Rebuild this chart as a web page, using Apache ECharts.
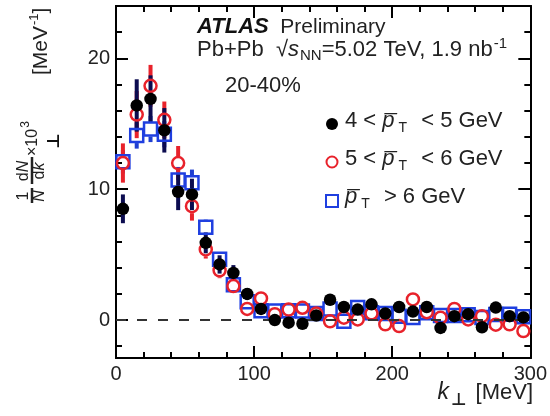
<!DOCTYPE html>
<html><head><meta charset="utf-8">
<script src="https://cdn.jsdelivr.net/npm/echarts@6/dist/echarts.min.js"></script>
<style>html,body{margin:0;padding:0;background:#fff}#c{width:550px;height:416px}</style>
</head><body><div id="c"></div>
<script>
// k_perp bin centres [MeV]
const kPerp = [5,15,25,35,45,55,65,75,85,95,105,115,125,135,145,155,165,175,185,195,205,215,225,235,245,255,265,275,285,295];
// 4 < pT < 5 GeV (black filled circles)
const pt45 = [8.5,16.4,16.9,14.5,9.8,9.6,5.9,4.25,3.6,2.0,0.85,0.0,-0.2,-0.28,0.35,1.55,1.0,0.8,1.2,0.5,1.0,0.65,1.0,-0.6,0.3,0.45,-0.55,0.95,0.3,0.2];
const pt45Err = [1.1,2.0,1.8,1.7,1.4,1.2,0.8,0.7,0.6,0.45,0.4,0.35,0.35,0.35,0.35,0.4,0.4,0.35,0.4,0.35,0.4,0.35,0.4,0.35,0.35,0.35,0.35,0.4,0.35,0.35];
// 5 < pT < 6 GeV (red open circles)
const pt56 = [12.0,15.7,17.9,15.3,12.0,8.7,5.4,3.8,2.6,0.85,1.65,0.45,0.8,0.94,0.5,-0.1,0.18,0.05,0.5,-0.33,-0.46,1.58,0.6,0.18,0.85,0.05,0.3,-0.35,-0.33,-0.84];
const pt56Err = [1.5,1.8,1.6,1.4,1.3,1.1,0.7,0.6,0.5,0.45,0.45,0.4,0.4,0.4,0.4,0.4,0.4,0.4,0.4,0.4,0.4,0.4,0.4,0.4,0.4,0.4,0.4,0.4,0.4,0.4];
// pT > 6 GeV (blue open squares)
const pt6 = [12.1,14.1,14.6,14.2,10.7,10.5,7.1,4.65,2.7,1.4,0.72,0.69,0.72,0.7,0.5,0.85,-0.1,0.95,0.56,0.5,0.3,0.2,0.56,0.35,0.35,0.4,0.2,0.43,0.45,0.25];
const pt6Err = [0.9,1.0,1.0,1.0,1.0,1.0,0.6,0.5,0.4,0.35,0.3,0.3,0.3,0.3,0.3,0.3,0.3,0.3,0.3,0.3,0.3,0.3,0.3,0.3,0.3,0.3,0.3,0.3,0.3,0.3];
const yMajorTicks = [0, 10, 20];
const yMinorTicks = [-2, 2, 4, 6, 8, 12, 14, 16, 18, 22];

const FONT = "'Liberation Sans', Arial, sans-serif";
const BLACK = '#000000', BLACKBAR = '#0c0c50', RED = '#e8222b', BLUE = '#1f3fe0', BLUEBAR = '#1f3fd0';

function errSeries(vals, errs, color, gap, z) {
  return {
    type: 'custom', z: z, silent: true,
    data: kPerp.map((k, i) => [k, vals[i], errs[i]]),
    renderItem: function (params, api) {
      const x = api.value(0), y = api.value(1), e = api.value(2);
      const c = api.coord([x, y]);
      const t = api.coord([x, y + e]);
      const b = api.coord([x, y - e]);
      const ch = [];
      if (c[1] - gap > t[1]) ch.push({type: 'line', shape: {x1: c[0], y1: t[1], x2: c[0], y2: c[1] - gap}, style: {stroke: color, lineWidth: 4}});
      if (b[1] > c[1] + gap) ch.push({type: 'line', shape: {x1: c[0], y1: c[1] + gap, x2: c[0], y2: b[1]}, style: {stroke: color, lineWidth: 4}});
      return {type: 'group', children: ch};
    }
  };
}

const axisCommon = {
  type: 'value', splitLine: {show: false},
  axisLine: {show: true, onZero: false, lineStyle: {color: '#000', width: 2}}
};

const chart = echarts.init(document.getElementById('c'));
chart.setOption({
  animation: false,
  backgroundColor: '#fff',
  grid: {left: 116, right: 15, top: 6, bottom: 58},
  xAxis: [
    Object.assign({}, axisCommon, {
      position: 'bottom', min: 0, max: 300, interval: 100,
      axisTick: {inside: true, length: 12, lineStyle: {color: '#000', width: 2}},
      minorTick: {show: true, splitNumber: 5, length: 6, lineStyle: {color: '#000', width: 2}},
      axisLabel: {fontSize: 20, color: '#222', fontFamily: FONT, margin: 6}
    }),
    Object.assign({}, axisCommon, {
      position: 'top', min: 0, max: 300, interval: 100,
      axisTick: {inside: true, length: 12, lineStyle: {color: '#000', width: 2}},
      minorTick: {show: true, splitNumber: 5, length: 6, lineStyle: {color: '#000', width: 2}},
      axisLabel: {show: false}
    })
  ],
  yAxis: [
    Object.assign({}, axisCommon, {
      position: 'left', min: -2.9, max: 24,
      axisTick: {inside: true, length: 12, customValues: yMajorTicks, lineStyle: {color: '#000', width: 2}},
      axisLabel: {customValues: yMajorTicks, fontSize: 20, color: '#222', fontFamily: FONT, margin: 6}
    }),
    Object.assign({}, axisCommon, {
      position: 'left', min: -2.9, max: 24,
      axisTick: {inside: true, length: 6, customValues: yMinorTicks, lineStyle: {color: '#000', width: 2}},
      axisLabel: {show: false}
    }),
    Object.assign({}, axisCommon, {
      position: 'right', min: -2.9, max: 24,
      axisTick: {inside: true, length: 12, customValues: yMajorTicks, lineStyle: {color: '#000', width: 2}},
      axisLabel: {show: false}
    }),
    Object.assign({}, axisCommon, {
      position: 'right', min: -2.9, max: 24,
      axisTick: {inside: true, length: 6, customValues: yMinorTicks, lineStyle: {color: '#000', width: 2}},
      axisLabel: {show: false}
    })
  ],
  series: [
    errSeries(pt6, pt6Err, BLUEBAR, 7.5, 2),
    errSeries(pt56, pt56Err, RED, 7, 2),
    errSeries(pt45, pt45Err, BLACKBAR, 4, 2),
    {
      name: 'pT > 6 GeV', type: 'scatter', z: 3, symbol: 'rect', symbolSize: 13,
      data: kPerp.map((k, i) => [k, pt6[i]]),
      itemStyle: {color: 'rgba(0,0,0,0)', borderColor: BLUE, borderWidth: 2.5, opacity: 1},
      markLine: {
        silent: true, symbol: 'none', label: {show: false},
        lineStyle: {color: '#333', width: 2, type: [10, 11]},
        data: [{yAxis: 0}]
      }
    },
    {
      name: '5 < pT < 6 GeV', type: 'scatter', z: 4, symbol: 'circle', symbolSize: 12,
      data: kPerp.map((k, i) => [k, pt56[i]]),
      itemStyle: {color: 'rgba(0,0,0,0)', borderColor: RED, borderWidth: 2.5, opacity: 1}
    },
    {
      name: '4 < pT < 5 GeV', type: 'scatter', z: 5, symbol: 'circle', symbolSize: 12.5,
      data: kPerp.map((k, i) => [k, pt45[i]]),
      itemStyle: {color: BLACK, opacity: 1}
    }
  ],
  graphic: [
    // header texts
    {type: 'text', z: 10, style: {x: 197, y: 27, verticalAlign: 'middle', fill: '#222', fontFamily: FONT, fontSize: 21,
      text: '{b|ATLAS}  Preliminary', rich: {b: {fontWeight: 'bold', fontStyle: 'italic', fontSize: 22, fontFamily: FONT, fill: '#111'}}}},
    {type: 'text', z: 10, style: {x: 197, y: 50, verticalAlign: 'middle', fill: '#222', fontFamily: FONT, fontSize: 22,
      text: 'Pb+Pb  \u221A{it|s}{sub|NN}=5.02 TeV, 1.9 nb{sup|-1}',
      rich: {it: {fontStyle: 'italic', fontSize: 22, fontFamily: FONT},
             sub: {fontSize: 15, fontFamily: FONT, padding: [12, 0, 0, 1]},
             sup: {fontSize: 15, fontFamily: FONT, padding: [0, 0, 12, 1]}}}},
    {type: 'text', z: 10, style: {x: 225, y: 86, verticalAlign: 'middle', fill: '#222', fontFamily: FONT, fontSize: 22, text: '20-40%'}},
    // legend
    {type: 'circle', z: 10, shape: {cx: 332, cy: 124, r: 6}, style: {fill: BLACK}},
    {type: 'circle', z: 10, shape: {cx: 332, cy: 162, r: 5.5}, style: {fill: 'none', stroke: RED, lineWidth: 2}},
    {type: 'rect', z: 10, shape: {x: 326, y: 195, width: 12, height: 12}, style: {fill: 'none', stroke: BLUE, lineWidth: 2}},
    {type: 'text', z: 10, style: {x: 345, y: 121, verticalAlign: 'middle', fill: '#222', fontFamily: FONT, fontSize: 22,
      text: '4 < {p|p\u0305}{sub|T} < 5 GeV',
      rich: {p: {fontStyle: 'italic', fontSize: 22, fontFamily: FONT}, sub: {fontSize: 14, fontFamily: FONT, padding: [14, 8, 0, 4]}}}},
    {type: 'text', z: 10, style: {x: 345, y: 159, verticalAlign: 'middle', fill: '#222', fontFamily: FONT, fontSize: 22,
      text: '5 < {p|p\u0305}{sub|T} < 6 GeV',
      rich: {p: {fontStyle: 'italic', fontSize: 22, fontFamily: FONT}, sub: {fontSize: 14, fontFamily: FONT, padding: [14, 8, 0, 4]}}}},
    {type: 'text', z: 10, style: {x: 345, y: 197, verticalAlign: 'middle', fill: '#222', fontFamily: FONT, fontSize: 22,
      text: '{p|p\u0305}{sub|T} > 6 GeV',
      rich: {p: {fontStyle: 'italic', fontSize: 22, fontFamily: FONT}, sub: {fontSize: 14, fontFamily: FONT, padding: [14, 8, 0, 4]}}}},
    // x axis title
    {type: 'text', z: 10, style: {x: 533, y: 393, align: 'right', verticalAlign: 'middle', fill: '#222', fontFamily: FONT, fontSize: 22,
      text: '{k|k}{sub|\u22A5} [MeV]',
      rich: {k: {fontStyle: 'italic', fontSize: 23, fontFamily: FONT},
             sub: {fontSize: 17, fontWeight: 'bold', fontFamily: "'DejaVu Sans', sans-serif", padding: [16, 3, 0, 2]}}}},
    // y axis title (rotated)
    {type: 'group', x: 33, y: 215, rotation: Math.PI / 2, z: 10, children: [
      {type: 'text', style: {x: 19, y: -9, align: 'center', verticalAlign: 'middle', text: '1', fontSize: 16, fontFamily: FONT, fill: '#222'}},
      {type: 'line', shape: {x1: 12, y1: -1, x2: 27, y2: -1}, style: {stroke: '#222', lineWidth: 2.5}},
      {type: 'text', style: {x: 19, y: 7, align: 'center', verticalAlign: 'middle', text: 'N', fontSize: 16, fontStyle: 'italic', fontFamily: FONT, fill: '#222'}},
      {type: 'text', style: {x: 44, y: -9, align: 'center', verticalAlign: 'middle', text: 'd{it|N}', fontSize: 16, fontFamily: FONT, fill: '#222',
        rich: {it: {fontStyle: 'italic', fontSize: 16, fontFamily: FONT}}}},
      {type: 'line', shape: {x1: 31, y1: -1, x2: 58, y2: -1}, style: {stroke: '#222', lineWidth: 2.5}},
      {type: 'text', style: {x: 44, y: 7, align: 'center', verticalAlign: 'middle', text: 'd{it|k}', fontSize: 16, fontFamily: FONT, fill: '#222',
        rich: {it: {fontStyle: 'italic', fontSize: 16, fontFamily: FONT}}}},
      {type: 'text', style: {x: 74, y: 22, align: 'center', verticalAlign: 'middle', text: '\u22A5', fontSize: 17, fontWeight: 'bold', fontFamily: "'DejaVu Sans', sans-serif", fill: '#111'}},
      {type: 'text', style: {x: 59, y: 0, align: 'left', verticalAlign: 'middle', text: '\u00D710{sup|3}', fontSize: 16, fontFamily: FONT, fill: '#222',
        rich: {sup: {fontSize: 12, fontFamily: FONT, padding: [0, 0, 14, 1]}}}},
      {type: 'text', style: {x: 140, y: 8, align: 'left', verticalAlign: 'middle', text: '[MeV{sup|-1}]', fontSize: 21, fontFamily: FONT, fill: '#222',
        rich: {sup: {fontSize: 13, fontFamily: FONT, padding: [0, 0, 14, 1]}}}}
    ]}
  ]
});
</script></body></html>
